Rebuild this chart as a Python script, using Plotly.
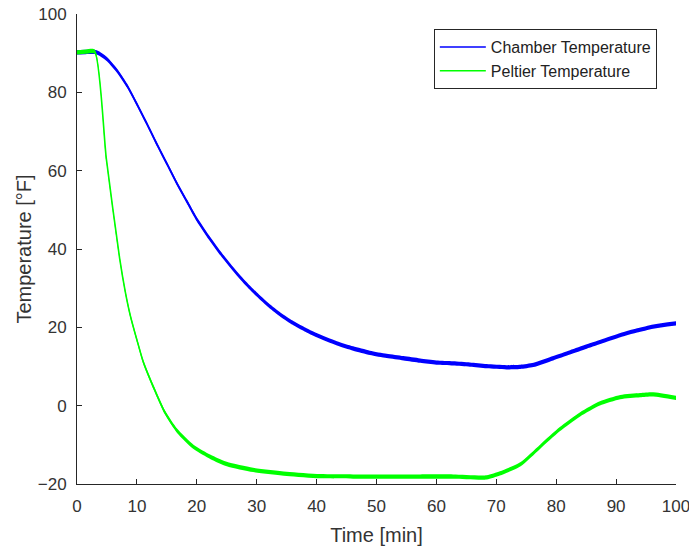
import plotly.graph_objects as go

# Chamber temperature readings (time in minutes, temperature in °F)
chamber_time = [0, 1.5, 3.3, 5.0, 6.7, 8.35, 10.0, 11.7, 13.4, 15.0, 16.7, 18.4,
                20.0, 22.0, 24.0, 26.0, 28.0, 30.0, 32.0, 34.0, 36.0, 38.0, 40.0,
                43.4, 46.1, 48.9, 51.7, 54.5, 57.3, 60.0, 62.8, 65.6, 68.4, 71.7,
                74.0, 76.2, 79.5, 82.3, 85.1, 88.0, 90.7, 93.5, 96.2, 100.0]
chamber_temp = [90.2, 90.3, 90.2, 88.5, 85.5, 81.7, 77.0, 71.9, 66.6, 61.8, 56.7, 52.0,
                47.6, 43.0, 38.8, 35.0, 31.5, 28.4, 25.6, 23.2, 21.2, 19.5, 18.0,
                15.9, 14.6, 13.5, 12.7, 12.1, 11.5, 11.0, 10.8, 10.5, 10.1, 9.8,
                9.9, 10.4, 12.1, 13.6, 15.1, 16.6, 18.0, 19.2, 20.2, 21.0]

# Peltier temperature readings
peltier_time = [0, 1.5, 2.95, 4.9, 7.12, 8.07, 8.9, 10.0, 11.1, 12.8, 14.7, 16.7,
                19.5, 22.3, 25.0, 29.4, 35.0, 40.6, 46.1, 51.7, 57.3, 62.8, 68.4,
                70.6, 74.0, 77.3, 80.6, 84.0, 87.3, 90.7, 94.0, 96.2, 100.0]
peltier_temp = [90.2, 90.4, 90.4, 63.0, 37.6, 29.0, 23.0, 16.8, 11.0, 4.6, -1.8, -6.4,
                -10.6, -13.1, -14.9, -16.4, -17.4, -18.0, -18.1, -18.1, -18.1, -18.1, -18.3,
                -17.3, -15.0, -10.5, -6.0, -2.2, 0.6, 2.2, 2.7, 2.9, 2.0]

x_ticks = [0, 10, 20, 30, 40, 50, 60, 70, 80, 90, 100]
y_ticks = [-20, 0, 20, 40, 60, 80, 100]

series = [
    ("Chamber Temperature", chamber_time, chamber_temp, "#0000FF"),
    ("Peltier Temperature", peltier_time, peltier_temp, "#00FF00"),
]

# half-height of the sensor-noise band drawn around each trace (°F)
NOISE = 0.55
SMOOTH = 0.6

fig = go.Figure()
for name, t, v, color in series:
    fig.add_trace(go.Scatter(x=t, y=[a + NOISE for a in v], mode="lines",
                             line=dict(color=color, width=0, shape="spline",
                                       smoothing=SMOOTH),
                             showlegend=False, hoverinfo="skip"))
    fig.add_trace(go.Scatter(x=t, y=[a - NOISE for a in v], mode="lines",
                             line=dict(color=color, width=0, shape="spline",
                                       smoothing=SMOOTH),
                             fill="tonexty", fillcolor=color, showlegend=False,
                             hoverinfo="skip"))
    fig.add_trace(go.Scatter(x=t, y=v, mode="lines", name=name,
                             line=dict(color=color, width=1.6, shape="spline",
                                       smoothing=SMOOTH)))

axis_color = "#262626"
font_family = "Liberation Sans, Arial, sans-serif"

fig.update_layout(
    width=689, height=546,
    margin=dict(l=77, r=13, t=14, b=62),
    paper_bgcolor="white", plot_bgcolor="white",
    font=dict(family=font_family, color="#333333", size=17),
    legend=dict(x=0.968, y=0.968, xanchor="right", yanchor="top",
                traceorder="normal",
                bgcolor="white", bordercolor=axis_color, borderwidth=1,
                font=dict(size=16, color="#222222"),
                tracegroupgap=0, itemwidth=46),
    xaxis=dict(range=[0, 100], tickvals=x_ticks, ticks="inside", ticklen=5,
               tickcolor=axis_color, showline=True, linecolor=axis_color,
               linewidth=1, showgrid=False, zeroline=False, mirror=False,
               ticklabelstandoff=7, ticklabeloverflow="allow", automargin=False,
               title=dict(text="Time [min]", font=dict(size=20), standoff=16)),
    yaxis=dict(range=[-20, 100], tickvals=y_ticks, ticks="inside", ticklen=5,
               tickcolor=axis_color, showline=True, linecolor=axis_color,
               linewidth=1, showgrid=False, zeroline=False, mirror=False,
               ticklabelstandoff=6, ticklabeloverflow="allow", automargin=False,
               title=dict(text="Temperature [°F]", font=dict(size=20), standoff=0)),
)

fig.write_html("out.html")
